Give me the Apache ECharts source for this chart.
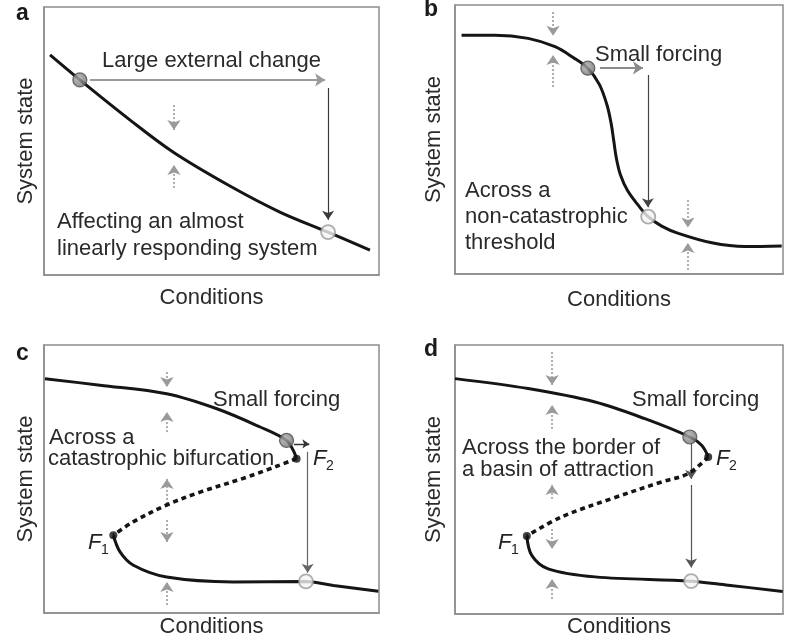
<!DOCTYPE html>
<html>
<head>
<meta charset="utf-8">
<script src="https://cdn.jsdelivr.net/npm/echarts@6/dist/echarts.min.js"></script>
<style>
  html, body { margin: 0; padding: 0; background: #ffffff; }
  #chart { width: 790px; height: 644px; }
</style>
</head>
<body>
<div id="chart"></div>
<script>
// ---- Panel a: almost linearly responding system ----
const curveA = [[1.8, 82.1], [10.7, 72.8], [25.7, 57.8], [38.5, 45.9], [55.5, 33.2], [70.4, 23.5], [84.8, 16.0], [97.3, 9.3]];
const startA = [[10.7, 72.8]];
const endA = [[84.8, 16.0]];
const forcingA = [[[13.7, 72.8], [83.9, 72.8]]];
const responseA = [[[84.8, 69.8], [84.8, 20.6]]];
const nudgeA = [[[38.8, 63.4], [38.8, 54.1]], [[38.8, 32.5], [38.8, 41.0]]];

// ---- Panel b: non-catastrophic threshold ----
const curveB = [[2.0, 88.8], [12.2, 88.8], [22.3, 87.6], [30.5, 84.5], [36.0, 80.5], [40.5, 76.5], [44.0, 70.5],
  [46.3, 63.0], [47.6, 56.0], [48.4, 49.5], [49.2, 43.0], [50.4, 37.0], [52.6, 31.0], [55.9, 25.5], [58.9, 21.3],
  [63.0, 17.8], [68.1, 15.1], [78.3, 11.6], [88.4, 10.2], [99.6, 10.4]];
const startB = [[40.5, 76.5]];
const endB = [[58.9, 21.3]];
const forcingB = [[[44.2, 76.6], [57.3, 76.6]]];
const responseB = [[[58.8, 74.0], [58.8, 24.8]]];
const nudgeB = [[[29.9, 97.4], [29.9, 88.6]], [[29.9, 69.5], [29.9, 81.4]],
  [[71.0, 27.5], [71.0, 17.3]], [[71.0, 1.5], [71.0, 11.5]]];

// ---- Panel c: catastrophic bifurcation ----
const upperC = [[0.3, 87.4], [16.7, 85.0], [36.6, 81.8], [51.6, 76.2], [64.5, 69.4], [72.4, 64.4], [74.4, 60.7], [75.4, 57.6]];
const unstableC = [[75.4, 57.6], [61.5, 51.1], [46.6, 45.1], [36.6, 40.3], [26.6, 34.0], [20.7, 29.0]];
const lowerC = [[20.7, 29.0], [22.7, 22.8], [26.7, 17.8], [36.6, 13.4], [56.5, 11.6], [77.9, 11.8], [86.4, 10.3], [99.8, 8.1]];
const startC = [[72.4, 64.4]];
const endC = [[78.2, 11.8]];
const foldC = [[75.4, 57.6], [20.7, 29.0]];
const forcingC = [[[74.6, 63.1], [79.2, 63.1]]];
const responseC = [[[78.7, 60.2], [78.7, 15.0]]];
const nudgeC = [[[36.7, 89.9], [36.7, 84.3]], [[36.7, 67.5], [36.7, 75.0]], [[36.7, 40.7], [36.7, 50.0]],
  [[36.7, 34.7], [36.7, 26.5]], [[36.7, 3.0], [36.7, 11.6]]];

// ---- Panel d: border of a basin of attraction ----
const upperD = [[0.0, 87.5], [22.3, 83.8], [42.7, 78.8], [57.9, 72.6], [71.6, 65.8], [75.2, 62.7], [77.2, 58.4]];
const unstableD = [[77.2, 58.4], [71.1, 52.2], [63.0, 49.1], [47.8, 42.9], [32.5, 36.1], [21.9, 29.0]];
const lowerD = [[21.9, 29.0], [23.4, 21.8], [28.4, 16.8], [42.7, 13.8], [72.0, 12.2], [83.3, 10.7], [99.9, 8.4]];
const startD = [[71.6, 65.8]];
const endD = [[72.0, 12.2]];
const foldD = [[77.2, 58.4], [21.9, 29.0]];
const responseD = [[[72.0, 63.2], [72.0, 50.2]], [[72.0, 48.0], [72.0, 17.3]]];
const nudgeD = [[[29.6, 97.4], [29.6, 85.1]], [[29.6, 68.8], [29.6, 77.7]], [[29.6, 42.8], [29.6, 48.0]],
  [[29.6, 31.6], [29.6, 24.2]], [[29.6, 5.6], [29.6, 13.0]]];

const axisTitleX = 'Conditions';
const axisTitleY = 'System state';

const FONT = '"Liberation Sans", Arial, Helvetica, sans-serif';
const TEXT = '#2a2a2a';
const BOX = '#8c8c8c';

const grids = [
  { left: 44, top: 7, width: 335, height: 268 },
  { left: 455, top: 5, width: 328, height: 269 },
  { left: 44, top: 345, width: 335, height: 268 },
  { left: 455, top: 345, width: 328, height: 269 }
];
const xGaps = [12, 15, 3, 2];
const yGaps = [7, 10, 7, 10];

function xAxisFor(i) {
  return {
    gridIndex: i, type: 'value', min: 0, max: 100,
    name: axisTitleX, nameLocation: 'middle', nameGap: xGaps[i],
    nameTextStyle: { fontFamily: FONT, fontSize: 22, color: TEXT, verticalAlign: 'top' },
    axisLine: { show: true, lineStyle: { color: BOX, width: 1.5 } },
    axisTick: { show: false }, axisLabel: { show: false }, splitLine: { show: false }
  };
}
function yAxisFor(i) {
  return {
    gridIndex: i, type: 'value', min: 0, max: 100,
    name: axisTitleY, nameLocation: 'middle', nameGap: yGaps[i],
    nameTextStyle: { fontFamily: FONT, fontSize: 22, color: TEXT },
    axisLine: { show: true, lineStyle: { color: BOX, width: 1.5 } },
    axisTick: { show: false }, axisLabel: { show: false }, splitLine: { show: false }
  };
}

function curve(i, data, dashed) {
  return {
    type: 'line', xAxisIndex: i, yAxisIndex: i, data: data, smooth: 0.35,
    symbol: 'none', silent: true, z: 3,
    lineStyle: dashed ? { color: '#151515', width: 3.6, type: [5, 4] } : { color: '#151515', width: 3 }
  };
}
function arrows(i, segs, color, width, dotted, size) {
  return {
    type: 'lines', coordinateSystem: 'cartesian2d', xAxisIndex: i, yAxisIndex: i,
    data: segs.map(s => ({ coords: s })), symbol: ['none', 'arrow'], symbolSize: size,
    silent: true, z: 2,
    lineStyle: { color: color, width: width, type: dotted ? [2, 2] : 'solid', opacity: 1 }
  };
}
function balls(i, data, kind) {
  const style = kind === 'start'
    ? { color: { type: 'radial', x: 0.4, y: 0.4, r: 0.6, colorStops: [{ offset: 0, color: '#b0b0b0' }, { offset: 1, color: '#6e6e6e' }] }, borderColor: '#4a4a4a', borderWidth: 1.2 }
    : kind === 'end'
      ? { color: '#f4f4f4', borderColor: '#9a9a9a', borderWidth: 1.8 }
      : { color: '#111111' };
  return {
    type: 'scatter', xAxisIndex: i, yAxisIndex: i, data: data, silent: true, z: 5,
    symbol: 'circle', symbolSize: kind === 'fold' ? 8 : 14, itemStyle: style
  };
}

const series = [
  curve(0, curveA), arrows(0, forcingA, '#9a9a9a', 2.2, false, 10), arrows(0, responseA, '#3a3a3a', 1.2, false, 9),
  arrows(0, nudgeA, '#9a9a9a', 1.6, true, 10), balls(0, startA, 'start'), balls(0, endA, 'end'),

  curve(1, curveB), arrows(1, forcingB, '#8a8a8a', 2.2, false, 10), arrows(1, responseB, '#444444', 1.2, false, 9),
  arrows(1, nudgeB, '#9a9a9a', 1.6, true, 10), balls(1, startB, 'start'), balls(1, endB, 'end'),

  curve(2, upperC), curve(2, unstableC, true), curve(2, lowerC),
  arrows(2, forcingC, '#333333', 1.4, false, 7), arrows(2, responseC, '#666666', 1.2, false, 9),
  arrows(2, nudgeC, '#9a9a9a', 1.6, true, 10), balls(2, foldC, 'fold'), balls(2, startC, 'start'), balls(2, endC, 'end'),

  curve(3, upperD), curve(3, unstableD, true), curve(3, lowerD),
  arrows(3, responseD, '#555555', 1.2, false, 9),
  arrows(3, nudgeD, '#9a9a9a', 1.6, true, 10), balls(3, foldD, 'fold'), balls(3, startD, 'start'), balls(3, endD, 'end')
];

function txt(x, y, s, extra) {
  return {
    type: 'text', x: x, y: y, silent: true, z: 10,
    style: Object.assign({ text: s, fontFamily: FONT, fontSize: 22, fill: TEXT, align: 'left', verticalAlign: 'middle' }, extra || {})
  };
}
function panelLetter(x, y, s) {
  return txt(x, y, s, { fontWeight: 'bold', fontSize: 23, fill: '#1a1a1a' });
}
function foldLabel(x, y, sub) {
  return [
    txt(x, y, 'F', { fontStyle: 'italic', fontSize: 22, fill: '#222' }),
    txt(x + 13, y + 7, sub, { fontSize: 14, fill: '#222' })
  ];
}

const graphic = [
  panelLetter(16, 14, 'a'), panelLetter(424, 10, 'b'), panelLetter(16, 354, 'c'), panelLetter(424, 350, 'd'),
  txt(102, 61, 'Large external change'),
  txt(57, 222, 'Affecting an almost'),
  txt(57, 249, 'linearly responding system'),
  txt(595, 55, 'Small forcing'),
  txt(465, 191, 'Across a'),
  txt(465, 217, 'non-catastrophic'),
  txt(465, 243, 'threshold'),
  txt(213, 400, 'Small forcing'),
  txt(49, 438, 'Across a'),
  txt(48, 459, 'catastrophic bifurcation'),
  ...foldLabel(313, 459, '2'),
  ...foldLabel(88, 543, '1'),
  txt(632, 400, 'Small forcing'),
  txt(462, 448, 'Across the border of'),
  txt(462, 470, 'a basin of attraction'),
  ...foldLabel(716, 459, '2'),
  ...foldLabel(498, 543, '1')
];

const chart = echarts.init(document.getElementById('chart'), null, { renderer: 'canvas' });
chart.setOption({
  backgroundColor: '#ffffff',
  animation: false,
  grid: grids.map(g => Object.assign({ show: true, borderColor: BOX, borderWidth: 1.5, backgroundColor: 'transparent' }, g)),
  xAxis: [0, 1, 2, 3].map(xAxisFor),
  yAxis: [0, 1, 2, 3].map(yAxisFor),
  series: series,
  graphic: graphic
});
</script>
</body>
</html>
